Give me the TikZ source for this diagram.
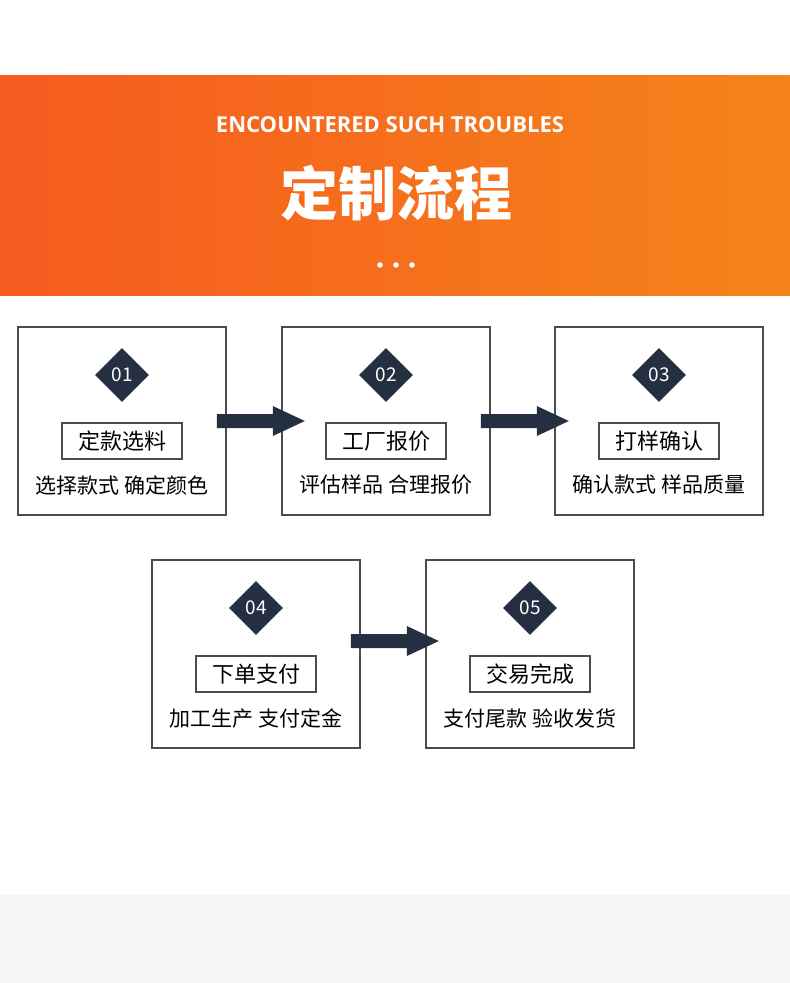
\documentclass[tikz,border=0pt]{standalone}
\usepackage{fontspec}
\setmainfont{Noto Sans CJK SC}
\newfontfamily\latinbold{Open Sans}
\usetikzlibrary{positioning,shapes.geometric}
\definecolor{navy}{HTML}{243042}
\definecolor{orangeL}{HTML}{F65A1F}
\definecolor{orangeR}{HTML}{F5841A}
\begin{document}
\begin{tikzpicture}[x=1pt,y=-1pt]
    \tikzset{stepbox/.style={draw=black!70, line width=1.6pt, minimum width=208pt, minimum height=188pt},
        badge/.style={diamond, fill=navy, text=white, minimum size=54pt, inner sep=0pt, font=\fontsize{19}{19}\selectfont},
        tag/.style={draw=black!70, line width=1.2pt, minimum width=120pt, minimum height=36pt, inner sep=2pt, font=\fontsize{22}{22}\selectfont},
        desc/.style={font=\fontsize{21}{21}\selectfont},
        flow/.style={fill=navy}}
    \useasboundingbox (0,0) rectangle (790,983);
    \fill[white] (0,0) rectangle (790,983);
    \fill[black!4] (0,895) rectangle (790,983);
    \shade[left color=orangeL, right color=orangeR] (0,75) rectangle (790,295);
    \node[text=white, font=\latinbold\bfseries\fontsize{22}{22}\selectfont] (eng) at (390,125) {ENCOUNTERED SUCH TROUBLES};
    \node[text=white, font=\bfseries\fontsize{58}{58}\selectfont] (title) at (396,193) {定制流程};
    \foreach \i in {-1,0,1} \fill[white] (396+\i*16,265) circle (2.8pt);
    % steps
    \foreach \n/\x/\y/\k/\t/\d in {1/122/421/01/定款选料/选择款式 确定颜色,
        2/386/421/02/工厂报价/评估样品 合理报价,
        3/659/421/03/打样确认/确认款式 样品质量,
        4/256/654/04/下单支付/加工生产 支付定金,
        5/530/654/05/交易完成/支付尾款 验收发货} {
        \node[stepbox] (box\n) at (\x,\y) {};
        \node[badge] (num\n) at (\x,\y-46) {\k};
        \node[tag] (tag\n) at (\x,\y+20) {\t};
        \node[desc] (desc\n) at (\x,\y+64) {\d};
    }
    % arrows
    \foreach \a/\b/\y in {1/2/421,2/3/421,4/5/641} {
        \coordinate (s\a) at ([xshift=-10pt]box\a.east |- 0,\y);
        \fill[flow] (s\a) ++(0,-7) rectangle ++(56,14)
            ++(0,8) -- ++(32,-15) -- ++(-32,-15) -- cycle;
    }
\end{tikzpicture}
\end{document}
